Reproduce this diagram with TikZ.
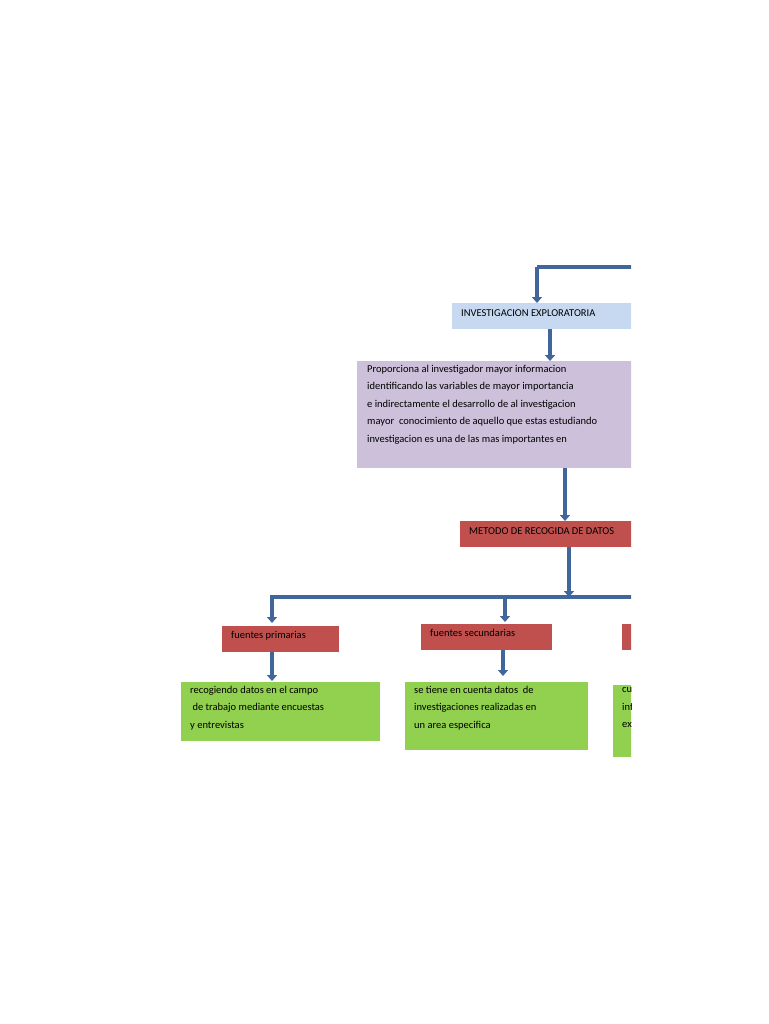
\documentclass[tikz,border=0pt]{standalone}
\usepackage{fontspec}
\setmainfont{Carlito}
\usetikzlibrary{arrows.meta}
\definecolor{lb}{HTML}{C6D9F1}
\definecolor{pu}{HTML}{CCC0DA}
\definecolor{rd}{HTML}{C0504D}
\definecolor{gr}{HTML}{92D050}
\definecolor{ln}{HTML}{41679A}
\begin{document}
\begin{tikzpicture}[x=1pt,y=-1pt,
  box/.style={anchor=north west,inner sep=0pt,font=\fontsize{10.5}{17.5}\selectfont},
  conn/.style={draw=ln,line width=3.5pt,-{Triangle[width=10pt,length=6pt]}},
  lin/.style={draw=ln,line width=3.5pt}]
\useasboundingbox (0,0) rectangle (768,1024);
\clip (0,0) rectangle (631,1024);
% boxes
\fill[lb] (452,303) rectangle (640,329);
\node[box] (ie) at (461,309) {INVESTIGACION EXPLORATORIA};
\fill[pu] (357,361) rectangle (640,468);
\node[box,align=left] (prop) at (367,365) {Proporciona al investigador mayor informacion\\identificando las variables de mayor importancia\\e indirectamente el desarrollo de al investigacion\\mayor\ \ conocimiento de aquello que estas estudiando\\investigacion es una de las mas importantes en};
\fill[rd] (460,521) rectangle (640,547);
\node[box] (met) at (469,527) {METODO DE RECOGIDA DE DATOS};
\fill[rd] (222,626) rectangle (339,652);
\node[box] (fp) at (231,631) {fuentes primarias};
\fill[rd] (421,624) rectangle (552,650);
\node[box] (fs) at (430,629) {fuentes secundarias};
\fill[rd] (622,624) rectangle (640,650);
\fill[gr] (181,682) rectangle (380,741);
\node[box,align=left] (g1) at (190,686) {recogiendo datos en el campo\\\ de trabajo mediante encuestas\\y entrevistas};
\fill[gr] (405,682) rectangle (588,750);
\node[box,align=left] (g2) at (414,686) {se tiene en cuenta datos\ \ de\\investigaciones realizadas en\\un area especifica};
\fill[gr] (613,685) rectangle (640,757);
\node[box,align=left] (g3) at (622,686) {cuenta\\informacion\\existente};
% connectors
\coordinate (t0) at (640,267);
\coordinate (t1) at (537,267);
\coordinate (iet) at (537,303);
\draw[lin] (t0) -- (t1);
\draw[conn] (t1) -- (iet);
\draw[conn] (550,329) -- (550,361);
\draw[conn] (565,468) -- (565,521);
\draw[conn] (569,547) -- (569,597);
\coordinate (hl) at (272,597);
\coordinate (hr) at (640,597);
\draw[lin] (hl) -- (hr);
\draw[conn] (272,595) -- (272,623);
\draw[conn] (505,597) -- (505,622);
\draw[conn] (272,652) -- (272,681);
\draw[conn] (503,650) -- (503,676);
\end{tikzpicture}
\end{document}
